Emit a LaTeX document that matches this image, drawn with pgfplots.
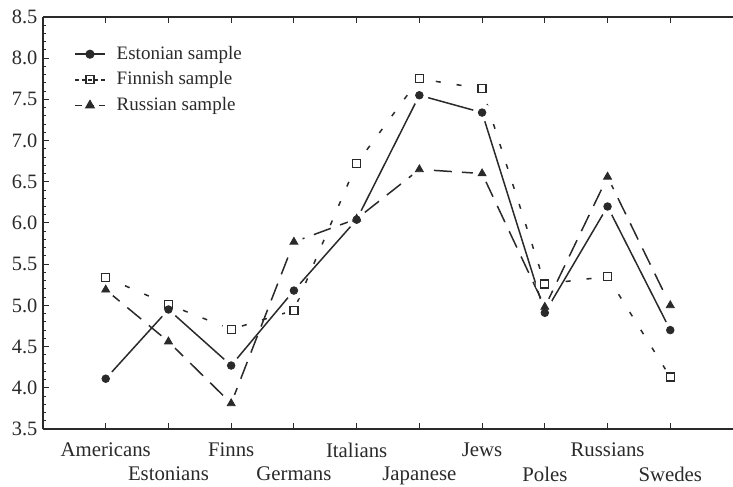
\documentclass[border=0pt]{standalone}
\usepackage{fontspec}
\setmainfont{Liberation Serif}
\usepackage{pgfplots}
\usepackage{pgfplotstable}
\pgfplotsset{compat=1.18}
\definecolor{ink}{HTML}{2A2A2A}
\pgfplotstableread{
x y
0 4.11
1 4.95
2 4.27
3 5.18
4 6.04
5 7.55
6 7.34
7 4.91
8 6.20
9 4.70
}\estonian
\pgfplotstableread{
x y
0 5.34
1 5.01
2 4.71
3 4.94
4 6.72
5 7.75
6 7.63
7 5.26
8 5.35
9 4.13
}\finnish
\pgfplotstableread{
x y
0 5.19
1 4.56
2 3.81
3 5.77
4 6.05
5 6.65
6 6.60
7 4.98
8 6.56
9 5.00
}\russian
\begin{document}
\fontsize{10.8}{13}\selectfont
\begin{tikzpicture}
\begin{axis}[
  scale only axis, width=345pt, height=206pt,
  xmin=-1, xmax=10, ymin=3.5, ymax=8.5,
  axis x line=box, axis y line=left,
  axis line style={-, ink, line width=0.6pt},
  every tick/.style={ink, line width=0.5pt},
  tick align=inside,
  major tick length=3pt, minor tick length=1.6pt,
  xtick={0,2,4,6,8},
  xticklabels={Americans,Finns,Italians,Jews,Russians},
  extra x ticks={1,3,5,7,9},
  extra x tick labels={Estonians,Germans,Japanese,Poles,Swedes},
  ticklabel style={text=ink},
  xticklabel style={yshift=-3pt, font=\fontsize{10.4}{12}\selectfont},
  extra x tick style={xticklabel style={yshift=-12pt}},
  ytick={3.5,4,4.5,5,5.5,6,6.5,7,7.5,8,8.5},
  minor y tick num=4,
  yticklabel style={/pgf/number format/.cd, fixed, fixed zerofill, precision=1, assume math mode=true,
    /tikz/.cd, font=\fontsize{10.2}{12}\selectfont, xshift=1pt},
  legend style={at={(0.036,0.95)}, anchor=north west, draw=none, fill=none,
    font=\fontsize{9.5}{11}\selectfont, text=ink, row sep=0.6pt, column sep=3.5pt,
    legend cell align=left},
  legend image code/.code={\draw[#1] (0pt,0pt) -- (15pt,0pt); \draw[#1, solid] plot coordinates {(7.5pt,0pt)};},
]
\coordinate (bl) at (rel axis cs:0,0);
\coordinate (tr) at (rel axis cs:1,1);
% lines
\addplot[forget plot, ink, line width=0.75pt, solid] table[x=x,y=y]{\estonian};
\addplot[forget plot, ink, line width=0.75pt, dash pattern=on 2.5pt off 8pt] table[x=x,y=y]{\finnish};
\addplot[forget plot, ink, line width=0.75pt, dash pattern=on 9pt off 5pt] table[x=x,y=y]{\russian};
% halos (gaps round the markers)
\addplot[forget plot, only marks, color=white, mark=*, mark size=4.4pt, mark options={draw=white, fill=white}] table[x=x,y=y]{\estonian};
\addplot[forget plot, only marks, color=white, mark=*, mark size=4.4pt, mark options={draw=white, fill=white}] table[x=x,y=y]{\finnish};
\addplot[forget plot, only marks, color=white, mark=*, mark size=4.4pt, mark options={draw=white, fill=white}] table[x=x,y=y]{\russian};
% markers
\addplot[forget plot, only marks, color=ink, mark=*, mark size=1.9pt, mark options={draw=ink, fill=ink}] table[x=x,y=y]{\estonian};
\addplot[forget plot, only marks, color=ink, mark=square, mark size=2pt, mark options={draw=ink, line width=0.6pt}] table[x=x,y=y]{\finnish};
\addplot[forget plot, only marks, color=ink, mark=triangle*, mark size=2.3pt, mark options={draw=ink, fill=ink}] table[x=x,y=y]{\russian};
% legend
\addlegendimage{ink, line width=0.75pt, solid, mark=*, mark size=1.9pt, mark options={fill=ink}}
\addlegendentry{Estonian sample}
\addlegendimage{ink, line width=0.75pt, dash pattern=on 1.8pt off 1.5pt, mark=square, mark size=2pt, mark options={fill=white, line width=0.6pt}}
\addlegendentry{Finnish sample}
\addlegendimage{ink, line width=0.75pt, dash pattern=on 3.5pt off 2.5pt, mark=triangle*, mark size=2.3pt, mark options={fill=ink}}
\addlegendentry{Russian sample}
\end{axis}
\pgfresetboundingbox
\path[use as bounding box] ([xshift=-21.5pt,yshift=-29pt]bl) rectangle ([yshift=8.5pt]tr);
\end{tikzpicture}
\end{document}
